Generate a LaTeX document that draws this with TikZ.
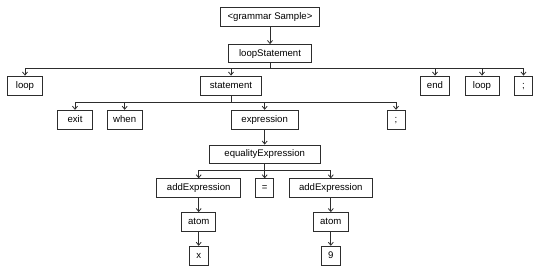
\documentclass[tikz,border=0pt]{standalone}
\usepackage{fontspec}
\setmainfont{Liberation Sans}
\usetikzlibrary{arrows.meta}
\definecolor{edgegrey}{RGB}{45,45,45}

\begin{document}
\begin{tikzpicture}[x=1pt, y=-1pt,
    sym/.style={draw=edgegrey, line width=0.8pt, minimum height=19pt, inner sep=0pt,
        text height=7pt, text depth=2pt, font=\fontsize{9.6}{11}\selectfont},
    link/.style={draw=edgegrey, line width=0.8pt},
    >={Straight Barb[length=3pt,width=5pt]},
]
    \useasboundingbox (0,0) rectangle (540,273);

    % root and first level
    \node[sym, minimum width=99pt] (gram) at (270,17) {<grammar Sample>};
    \node[sym, minimum width=83pt, minimum height=18pt] (lstmt) at (270,53.5) {loopStatement};
    \coordinate (b1) at (270,68.5);

    \node[sym, minimum width=35pt] (loopA) at (25,85.5) {loop};
    \node[sym, minimum width=61pt] (stmt) at (231,85.5) {statement};
    \node[sym, minimum width=29pt] (kwEnd) at (435,85.5) {end};
    \node[sym, minimum width=34pt] (loopB) at (482,85.5) {loop};
    \node[sym, minimum width=18pt] (semiA) at (523.5,85.5) {;};
    \coordinate (b2) at (231,102.5);

    % statement
    \node[sym, minimum width=35pt] (kwExit) at (75,119.7) {exit};
    \node[sym, minimum width=35pt] (kwWhen) at (124.7,119.7) {when};
    \node[sym, minimum width=67pt] (expr) at (264.7,119.7) {expression};
    \node[sym, minimum width=18pt] (semiB) at (396,119.7) {;};

    % expression
    \node[sym, minimum width=111pt, minimum height=18pt] (eqexpr) at (264.7,154) {equalityExpression};
    \coordinate (b3) at (264.7,170.5);
    \node[sym, minimum width=84pt, minimum height=18.5pt] (addL) at (198.7,188) {addExpression};
    \node[sym, minimum width=18pt, minimum height=18.5pt] (eqSign) at (264.7,188) {=};
    \node[sym, minimum width=83pt, minimum height=18.5pt] (addR) at (330.8,188) {addExpression};

    \node[sym, minimum width=34pt] (atomL) at (198.7,222) {atom};
    \node[sym, minimum width=35pt] (atomR) at (330.8,222) {atom};
    \node[sym, minimum width=19pt] (leafX) at (198.7,255.7) {x};
    \node[sym, minimum width=18.5pt] (leafNine) at (330.8,255.7) {9};

    % connectors
    \draw[link,->] (gram) -- (lstmt);
    \draw[link] (lstmt) -- (b1);
    \foreach \n in {loopA,stmt,kwEnd,loopB,semiA}
        \draw[link,->] (b1) -| (\n.north);
    \draw[link] (stmt) -- (b2);
    \foreach \n in {kwExit,kwWhen,expr,semiB}
        \draw[link,->] (b2) -| (\n.north);
    \draw[link,->] (expr) -- (eqexpr);
    \draw[link] (eqexpr) -- (b3);
    \foreach \n in {addL,eqSign,addR}
        \draw[link,->] (b3) -| (\n.north);
    \draw[link,->] (addL) -- (atomL);
    \draw[link,->] (atomL) -- (leafX);
    \draw[link,->] (addR) -- (atomR);
    \draw[link,->] (atomR) -- (leafNine);
\end{tikzpicture}
\end{document}
